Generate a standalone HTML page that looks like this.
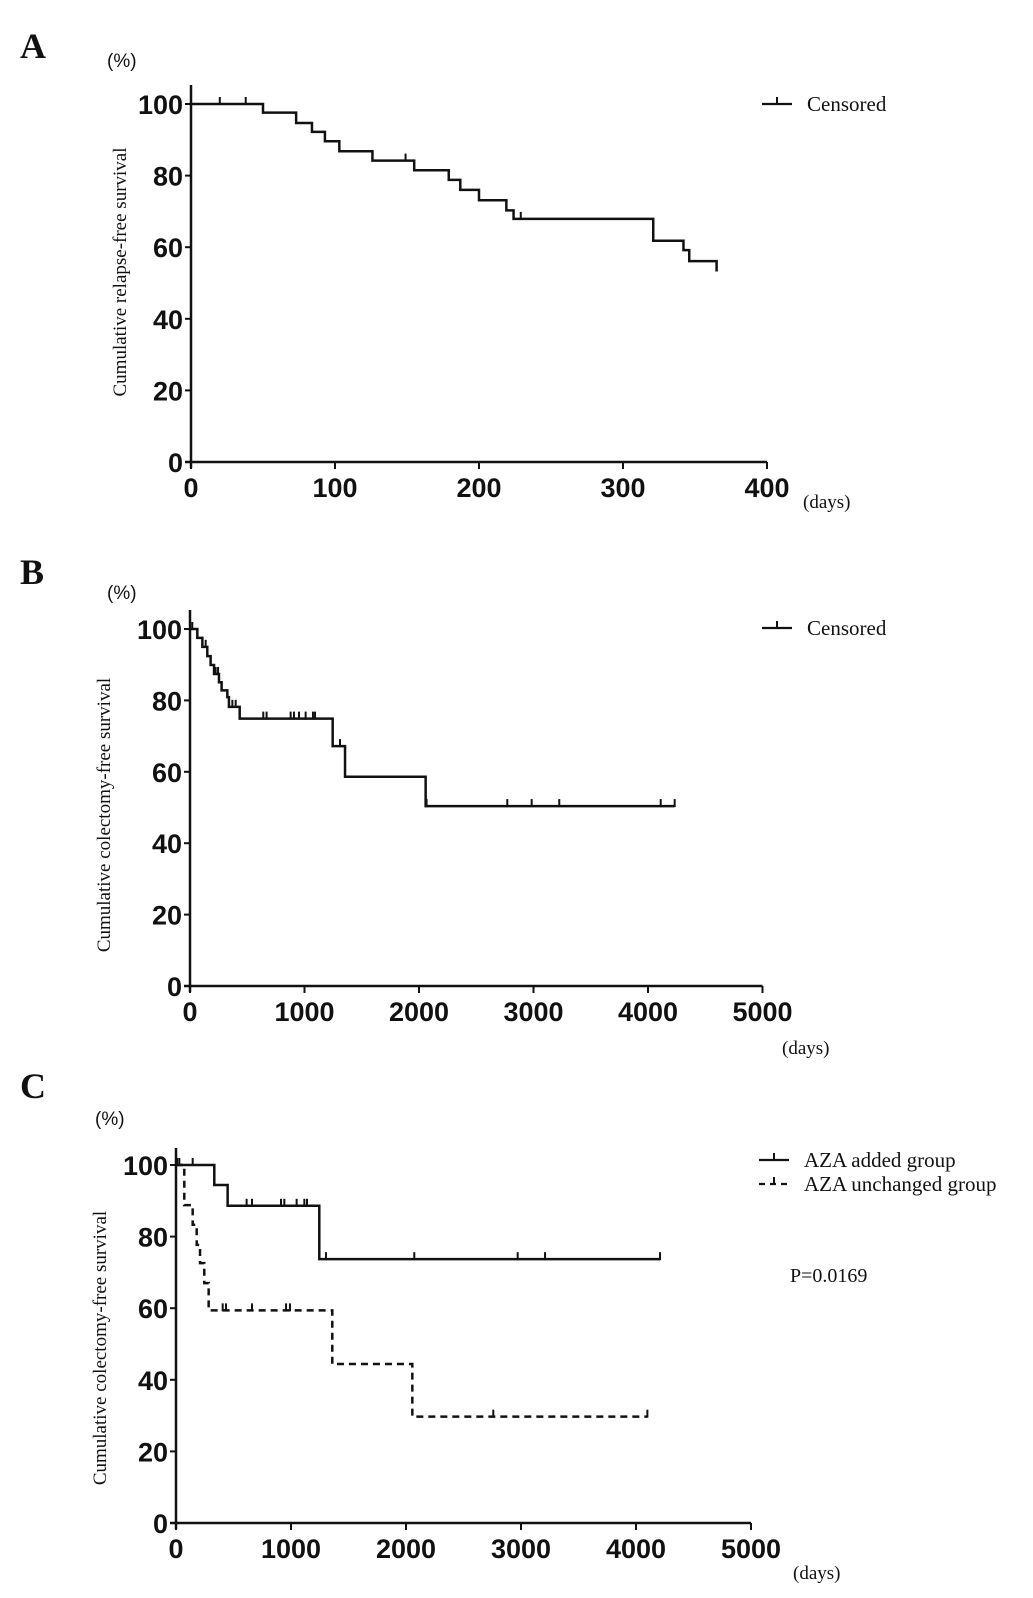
<!DOCTYPE html>
<html><head><meta charset="utf-8">
<style>
html,body{margin:0;padding:0;background:#fff;}
svg{display:block;}
.tick{font-family:"Liberation Sans",Arial,sans-serif;font-weight:bold;font-size:27px;fill:#111;}
.ser{font-family:"Liberation Serif",serif;fill:#111;}
</style></head>
<body>
<svg id="chart" width="1033" height="1598" viewBox="0 0 1033 1598" xmlns="http://www.w3.org/2000/svg">
<text class="ser" x="20" y="58" font-size="36" font-weight="bold">A</text>
<text class="ser" x="20" y="584" font-size="36" font-weight="bold">B</text>
<text class="ser" x="20" y="1098" font-size="36" font-weight="bold">C</text>
<text x="107" y="67" font-family="Liberation Sans,sans-serif" font-size="19" fill="#111">(%)</text>
<text x="107" y="599" font-family="Liberation Sans,sans-serif" font-size="19" fill="#111">(%)</text>
<text x="95" y="1125" font-family="Liberation Sans,sans-serif" font-size="19" fill="#111">(%)</text>
<text class="ser" font-size="19" transform="translate(126,272) rotate(-90)" text-anchor="middle">Cumulative relapse-free survival</text>
<text class="ser" font-size="19" transform="translate(110,815) rotate(-90)" text-anchor="middle">Cumulative colectomy-free survival</text>
<text class="ser" font-size="19" transform="translate(106,1348) rotate(-90)" text-anchor="middle">Cumulative colectomy-free survival</text>
<text class="ser" x="803" y="508" font-size="19">(days)</text>
<text class="ser" x="782" y="1054" font-size="19">(days)</text>
<text class="ser" x="793" y="1579" font-size="19">(days)</text>
<text class="ser" x="790" y="1282" font-size="20">P=0.0169</text>
</svg>
<script>
// Panel A data
const aTimes = [0, 50, 73, 84, 93, 103, 126, 155, 179, 187, 200, 219, 224, 321, 342, 346, 365];
const aValues = [100, 97.6, 94.7, 92.2, 89.6, 86.8, 84.2, 81.5, 78.8, 76.0, 73.1, 70.3, 67.9, 61.8, 59.2, 56.1, 53.2];
const aCensorTimes = [20, 38, 149, 229];
const aXTicks = [0, 100, 200, 300, 400];
// Panel B data
const bTimes = [0, 64, 108, 151, 180, 210, 253, 276, 326, 340, 434, 1246, 1354, 2058, 4233];
const bValues = [100, 97.5, 95.0, 92.4, 89.9, 87.4, 85.1, 82.8, 80.9, 78.2, 74.9, 67.2, 58.6, 50.4, 50.4];
const bCensorTimes = [20, 137, 224, 245, 370, 399, 640, 669, 879, 908, 952, 1010, 1074, 1092, 1310, 2066, 2771, 2984, 3225, 4111, 4233];
const bXTicks = [0, 1000, 2000, 3000, 4000, 5000];
// Panel C data
const cAddTimes = [0, 333, 449, 1246, 4209];
const cAddValues = [100, 94.4, 88.6, 73.7, 73.7];
const cAddCensor = [29, 145, 333, 614, 661, 913, 942, 1049, 1116, 1139, 1304, 2072, 2971, 3209, 4209];
const cUnTimes = [0, 72, 145, 180, 209, 246, 284, 1359, 2055, 4099];
const cUnValues = [100, 88.8, 83.3, 77.7, 72.6, 67.0, 59.4, 44.4, 29.7, 29.7];
const cUnCensor = [10, 406, 435, 661, 957, 991, 2759, 4099];
const cXTicks = [0, 1000, 2000, 3000, 4000, 5000];
const yTicks = [0, 20, 40, 60, 80, 100];

const NS = 'http://www.w3.org/2000/svg';
const svg = document.getElementById('chart');
function mk(tag, attrs, parent) {
  const e = document.createElementNS(NS, tag);
  for (const k in attrs) e.setAttribute(k, attrs[k]);
  (parent || svg).appendChild(e);
  return e;
}
function axes(p, name) {
  const g = mk('g', {});
  
  
  mk('line', {x1: p.x0, y1: p.top, x2: p.x0, y2: p.y0 + 6, stroke: '#111', 'stroke-width': 2.5}, g);
  mk('line', {x1: p.x0 - 6, y1: p.y0, x2: p.xs(p.xmax), y2: p.y0, stroke: '#111', 'stroke-width': 2.5}, g);
  yTicks.forEach(v => {
    const y = p.ys(v);
    mk('line', {x1: p.x0 - 6, y1: y, x2: p.x0, y2: y, stroke: '#111', 'stroke-width': 2}, g);
    const t = mk('text', {x: p.x0 - 8, y: y + 10, 'text-anchor': 'end', class: 'tick'}, g);
    t.textContent = v;
    
    
  });
  p.xticks.forEach(v => {
    const x = p.xs(v);
    mk('line', {x1: x, y1: p.y0, x2: x, y2: p.y0 + 7, stroke: '#111', 'stroke-width': 2}, g);
    const t = mk('text', {x: x, y: p.y0 + 35, 'text-anchor': 'middle', class: 'tick'}, g);
    t.textContent = v;
    
    
  });
}
function stepPath(p, times, values) {
  let d = 'M' + p.xs(times[0]) + ' ' + p.ys(values[0]);
  for (let i = 1; i < times.length; i++) {
    d += ' H' + p.xs(times[i]) + ' V' + p.ys(values[i]);
  }
  return d;
}
function valueAt(times, values, t) {
  let v = values[0];
  for (let i = 0; i < times.length; i++) if (times[i] <= t) v = values[i];
  return v;
}
function series(p, times, values, censor, name, dashed) {
  const path = mk('path', {d: stepPath(p, times, values), fill: 'none', stroke: '#111', 'stroke-width': 2.5});
  if (dashed) path.setAttribute('stroke-dasharray', '7 5');
  
  
  censor.forEach(t => {
    const x = p.xs(t), y = p.ys(valueAt(times, values, t));
    const c = mk('line', {x1: x, y1: y - 7, x2: x, y2: y + 1, stroke: '#111', 'stroke-width': 2});
    
    
  });
}
function legend(x, y, label, name, dashed) {
  const g = mk('g', {});
  
  
  const l = mk('line', {x1: x, y1: y, x2: x + 30, y2: y, stroke: '#111', 'stroke-width': 2.2}, g);
  if (dashed) l.setAttribute('stroke-dasharray', '6 5');
  mk('line', {x1: x + 15, y1: y - 7, x2: x + 15, y2: y, stroke: '#111', 'stroke-width': 2}, g);
  const t = mk('text', {x: x + 45, y: y + 7, class: 'ser', 'font-size': 21}, g);
  t.textContent = label;
}

const pA = {x0: 191, y0: 462, top: 85, xmax: 400, xticks: aXTicks,
  xs: v => 191 + v * 1.44, ys: v => 462 - v * 3.58};
const pB = {x0: 190, y0: 986, top: 610, xmax: 5000, xticks: bXTicks,
  xs: v => 190 + v * 0.1145, ys: v => 986 - v * 3.57};
const pC = {x0: 176, y0: 1523, top: 1148, xmax: 5000, xticks: cXTicks,
  xs: v => 176 + v * 0.115, ys: v => 1523 - v * 3.58};

axes(pA, 'panel-a');
axes(pB, 'panel-b');
axes(pC, 'panel-c');
series(pA, aTimes, aValues, aCensorTimes, 'panel-a-relapse-free', false);
series(pB, bTimes, bValues, bCensorTimes, 'panel-b-colectomy-free', false);
series(pC, cAddTimes, cAddValues, cAddCensor, 'panel-c-aza-added', false);
series(pC, cUnTimes, cUnValues, cUnCensor, 'panel-c-aza-unchanged', true);
legend(762, 104, 'Censored', 'panel-a-legend-censored', false);
legend(762, 628, 'Censored', 'panel-b-legend-censored', false);
legend(759, 1160, 'AZA added group', 'panel-c-legend-aza-added', false);
legend(759, 1184, 'AZA unchanged group', 'panel-c-legend-aza-unchanged', true);
</script>
</body></html>
